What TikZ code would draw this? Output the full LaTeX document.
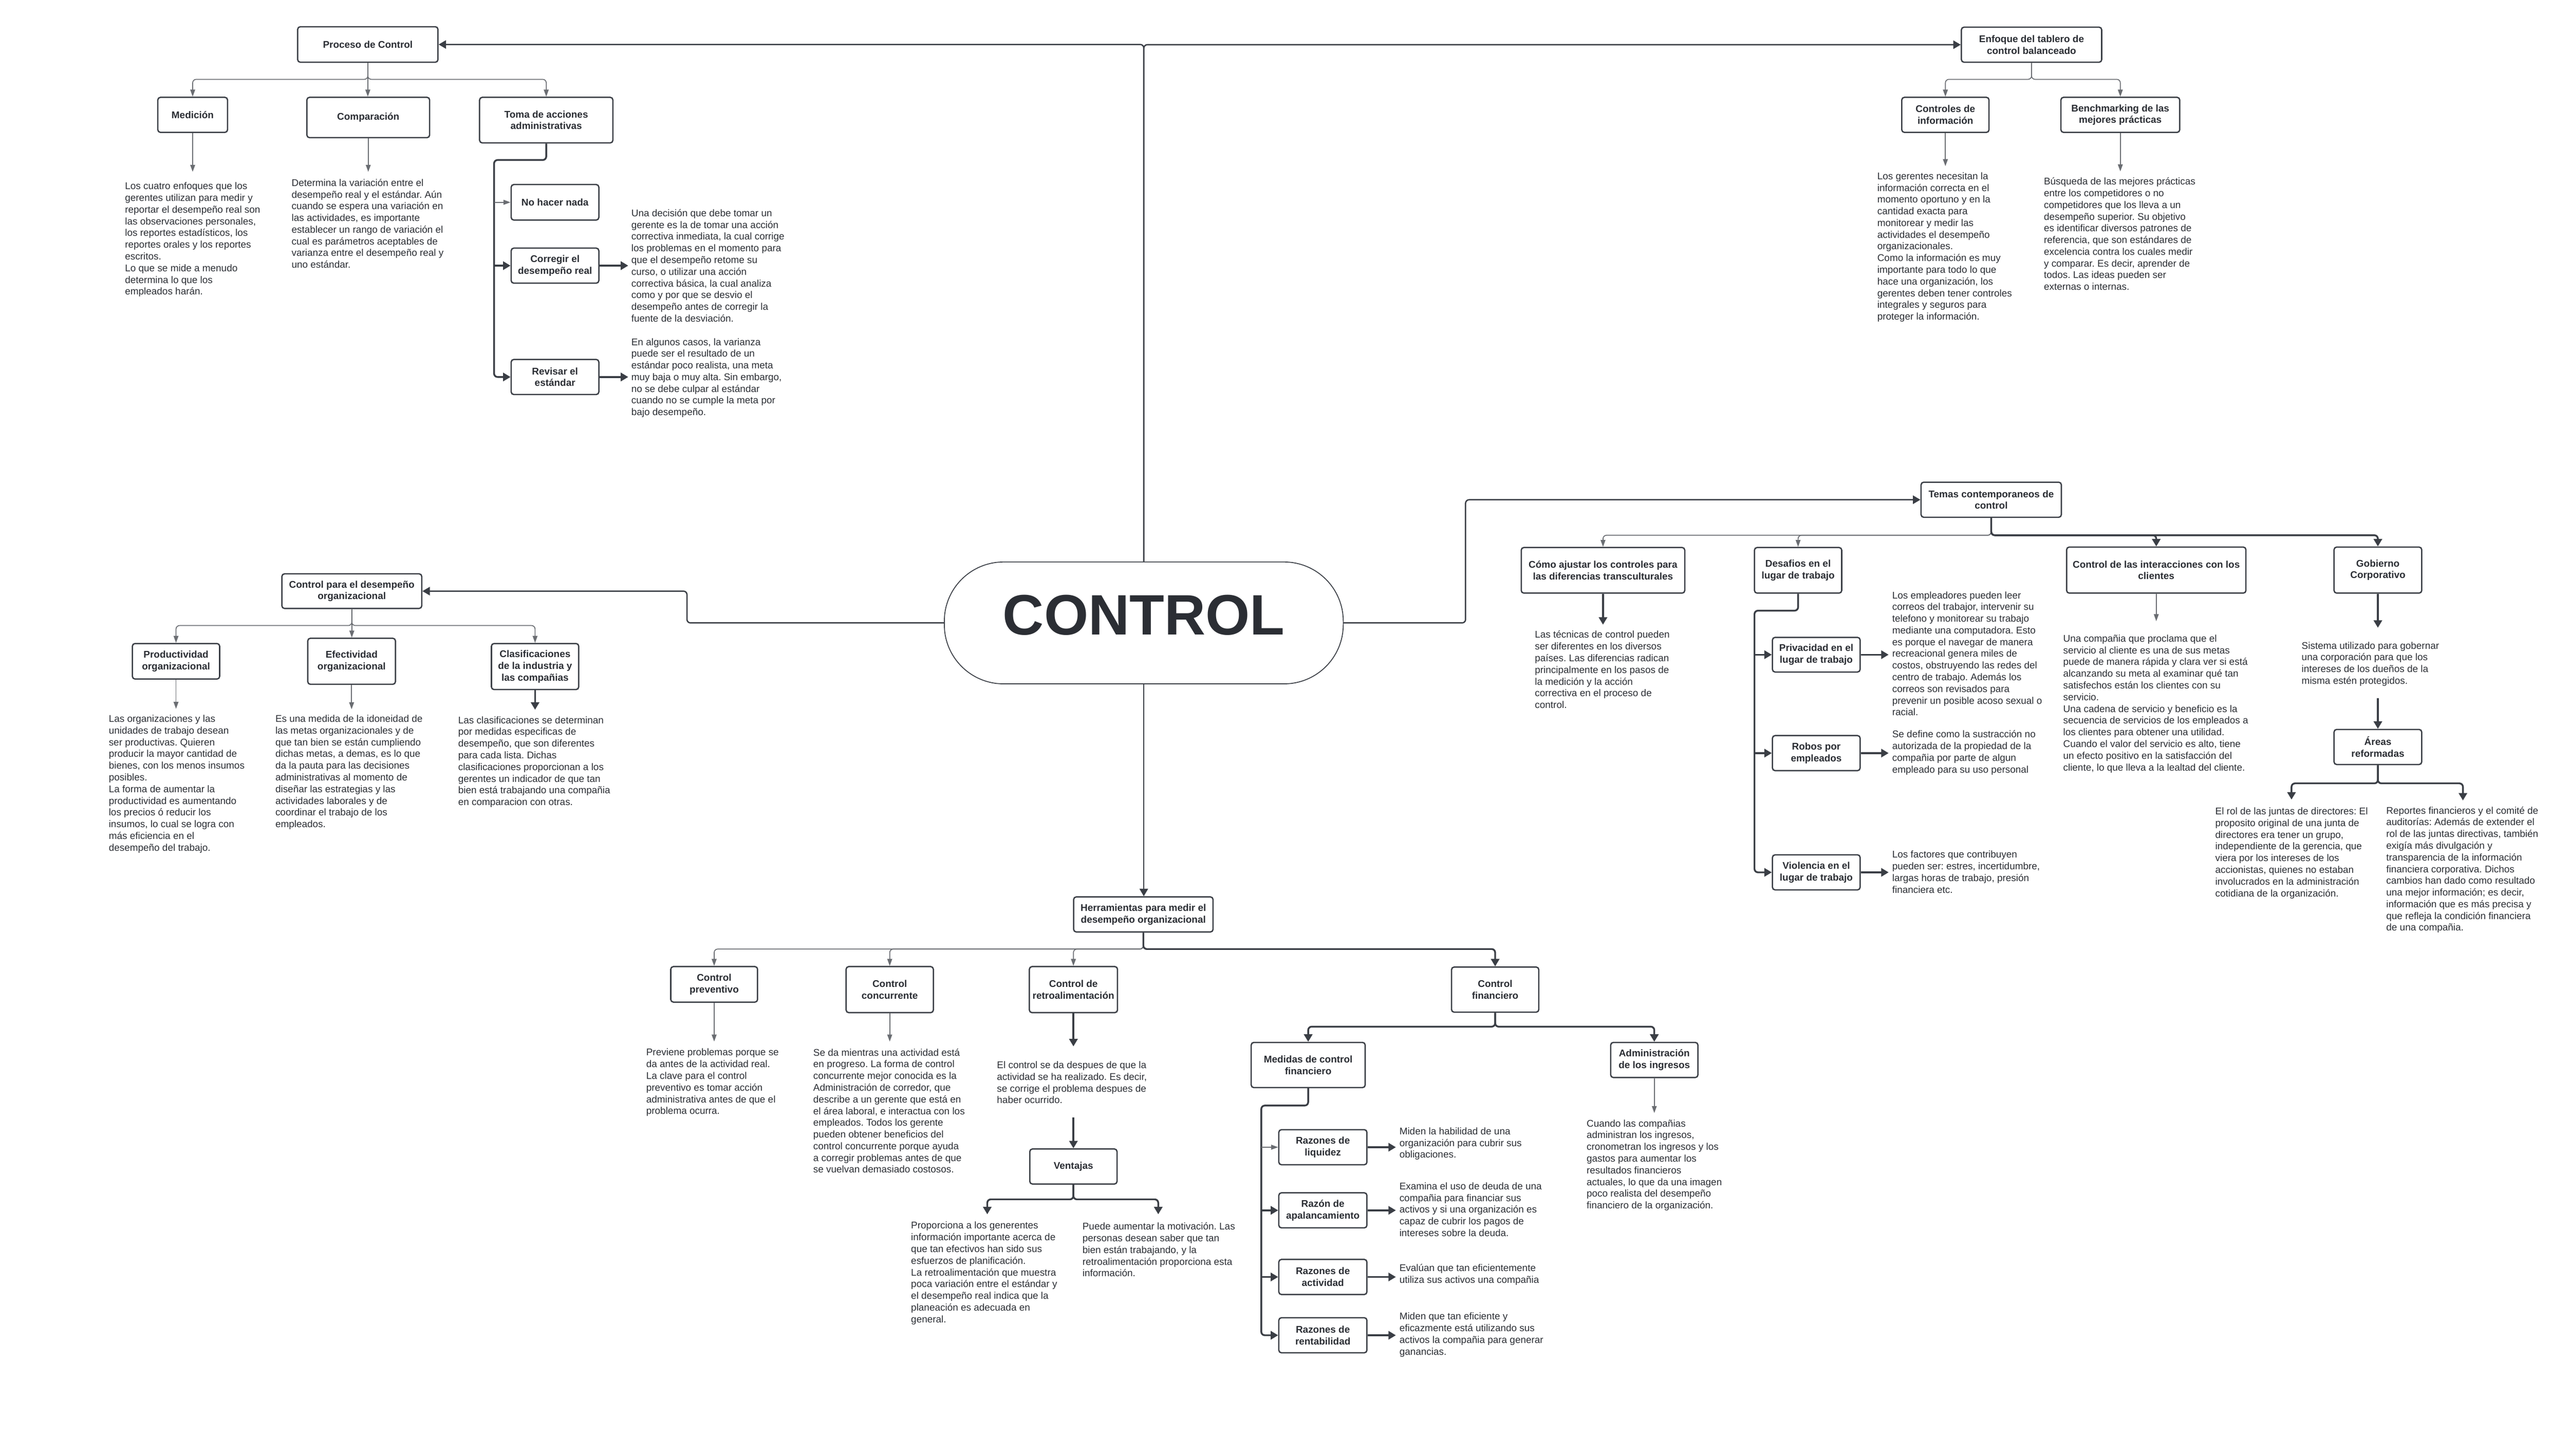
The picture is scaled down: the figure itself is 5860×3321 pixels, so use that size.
\documentclass[tikz,border=0pt]{standalone}
\usepackage{fontspec}
\setmainfont{Liberation Sans}
\usetikzlibrary{arrows.meta}
\definecolor{ink}{HTML}{2B2E34}
\definecolor{edge}{HTML}{3A3E45}
\definecolor{grayline}{HTML}{6A6D72}
\frenchspacing
\begin{document}
\begin{tikzpicture}[x=1pt,y=-1pt,
 every node/.style={font=\fontsize{22.2}{26.7}\selectfont, text=ink},
 box/.style={draw=edge, line width=3pt, rounded corners=6pt, fill=white, font=\fontsize{22.2}{26.7}\selectfont\bfseries, align=center, inner sep=0pt},
 bx/.style 2 args={box, minimum width=#1pt, minimum height=#2pt},
 desc/.style={align=left, inner sep=0pt},
 thinarr/.style={draw=grayline, line width=2pt, rounded corners=8pt, -{Triangle[length=16pt,width=11pt]}},
 boldarr/.style={draw=edge, line width=4pt, rounded corners=8pt, -{Triangle[length=17pt,width=19pt]}},
 trunk/.style={draw=edge, line width=3pt, rounded corners=8pt, -{Triangle[length=17pt,width=19pt]}},
]
\fill[white] (0,0) rectangle (5860,3321);
\useasboundingbox (0,0) rectangle (5860,3321);

% ---------- central node ----------
\node[draw=edge, line width=2pt, rounded corners=135pt, minimum width=910pt, minimum height=278pt, inner sep=0pt, fill=white] (ctrl) at (2609,1421) {};
\node[font=\fontsize{130}{130}\selectfont\bfseries, inner sep=0pt] (ctrltxt) at (2609,1403) {CONTROL};

% ---------- Proceso de Control ----------
\node[bx={320}{81}] (proc) at (839,101.5) {Proceso de Control};
\node[bx={159}{80}] (med) at (439.5,262) {Medición};
\node[bx={280}{92}] (comp) at (840,268) {Comparación};
\node[bx={304}{104}] (toma) at (1246,274) {Toma de acciones\\administrativas};
\node[bx={200}{81}] (nada) at (1266,461.5) {No hacer nada};
\node[bx={200}{80}] (corr) at (1266,606) {Corregir el\\desempeño real};
\node[bx={200}{80}] (rev) at (1266,860) {Revisar el\\estándar};

\node[desc, anchor=north west] (medtxt) at (285,416) {Los cuatro enfoques que los\\gerentes utilizan para medir y\\reportar el desempeño real son\\las observaciones personales,\\los reportes estadísticos, los\\reportes orales y los reportes\\escritos.\\Lo que se mide a menudo\\determina lo que los\\empleados harán.};
\node[desc, anchor=north west] (comptxt) at (665,408) {Determina la variación entre el\\desempeño real y el estándar. Aún\\cuando se espera una variación en\\las actividades, es importante\\establecer un rango de variación el\\cual es parámetros aceptables de\\varianza entre el desempeño real y\\uno estándar.};
\node[desc, anchor=west] (corrtxt) at (1440,606) {Una decisión que debe tomar un\\gerente es la de tomar una acción\\correctiva inmediata, la cual corrige\\los problemas en el momento para\\que el desempeño retome su\\curso, o utilizar una acción\\correctiva básica, la cual analiza\\como y por que se desvio el\\desempeño antes de corregir la\\fuente de la desviación.};
\node[desc, anchor=west] (revtxt) at (1440,862) {En algunos casos, la varianza\\puede ser el resultado de un\\estándar poco realista, una meta\\muy baja o muy alta. Sin embargo,\\no se debe culpar al estándar\\cuando no se cumple la meta por\\bajo desempeño.};

\coordinate (pj) at (839,181);
\draw[thinarr] (proc.south) -- (pj) -| (med.north);
\draw[thinarr] (proc.south) -- (proc.south |- comp.north);
\draw[thinarr] (proc.south) -- (pj) -| (toma.north);
\coordinate (medtip) at (439.5,392);
\coordinate (comptip) at (840,392);
\draw[thinarr] (med.south) -- (medtip);
\draw[thinarr] (comp.south) -- (comptip);
\coordinate (tj) at (1127,365);
\draw[boldarr] (toma.south) |- (tj) |- (rev.west);
\draw[thinarr] (tj |- nada.west) -- (nada.west);
\draw[boldarr] (tj |- corr.west) -- (corr.west);
\draw[boldarr, shorten >=7pt] (corr.east) -- (corr.east -| corrtxt.west);
\draw[boldarr, shorten >=7pt] (rev.east) -- (rev.east -| revtxt.west);

% ---------- Enfoque del tablero ----------
\node[bx={320}{80}] (enf) at (4634,102) {Enfoque del tablero de\\control balanceado};
\node[bx={199}{80}] (cinf) at (4437.5,262) {Controles de\\información};
\node[bx={271}{80}] (bench) at (4836.5,262) {Benchmarking de las\\mejores prácticas};
\node[desc, anchor=north west] (cinftxt) at (4282,393) {Los gerentes necesitan la\\información correcta en el\\momento oportuno y en la\\cantidad exacta para\\monitorear y medir las\\actividades el desempeño\\organizacionales.\\Como la información es muy\\importante para todo lo que\\hace una organización, los\\gerentes deben tener controles\\integrales y seguros para\\proteger la información.};
\node[desc, anchor=north west] (benchtxt) at (4662,405) {Búsqueda de las mejores prácticas\\entre los competidores o no\\competidores que los lleva a un\\desempeño superior. Su objetivo\\es identificar diversos patrones de\\referencia, que son estándares de\\excelencia contra los cuales medir\\y comparar. Es decir, aprender de\\todos. Las ideas pueden ser\\externas o internas.};
\coordinate (ej) at (4634,181);
\draw[thinarr] (enf.south) -- (ej) -| (cinf.north);
\draw[thinarr] (enf.south) -- (ej) -| (bench.north);
\coordinate (cinftip) at (4437.5,379);
\coordinate (benchtip) at (4836.5,391);
\draw[thinarr] (cinf.south) -- (cinftip);
\draw[thinarr] (bench.south) -- (benchtip);

% top trunk
\draw[trunk] (ctrl.north) |- (proc.east);
\draw[trunk] (ctrl.north) |- (enf.west);

% ---------- Control para el desempeño organizacional ----------
\node[bx={319}{79}] (cpd) at (802.5,1348.5) {Control para el desempeño\\organizacional};
\node[bx={199}{81}] (prod) at (401.5,1508.5) {Productividad\\organizacional};
\node[bx={200}{105}] (efec) at (802,1508.5) {Efectividad\\organizacional};
\node[bx={199}{105}] (clas) at (1220.5,1520.5) {Clasificaciones\\de la industria y\\las compañias};
\node[desc, anchor=north west] (prodtxt) at (248,1631) {Las organizaciones y las\\unidades de trabajo desean\\ser productivas. Quieren\\producir la mayor cantidad de\\bienes, con los menos insumos\\posibles.\\La forma de aumentar la\\productividad es aumentando\\los precios ó reducir los\\insumos, lo cual se logra con\\más eficiencia en el\\desempeño del trabajo.};
\node[desc, anchor=north west] (efectxt) at (628,1631) {Es una medida de la idoneidad de\\las metas organizacionales y de\\que tan bien se están cumpliendo\\dichas metas, a demas, es lo que\\da la pauta para las decisiones\\administrativas al momento de\\diseñar las estrategias y las\\actividades laborales y de\\coordinar el trabajo de los\\empleados.};
\node[desc, anchor=north west] (clastxt) at (1045,1634) {Las clasificaciones se determinan\\por medidas especificas de\\desempeño, que son diferentes\\para cada lista. Dichas\\clasificaciones proporcionan a los\\gerentes un indicador de que tan\\bien está trabajando una compañia\\en comparacion con otras.};
\coordinate (lj) at (1567,1421);
\draw[trunk] (ctrl.west) -- (lj) |- (cpd.east);
\coordinate (cj) at (802.5,1427);
\draw[thinarr] (cpd.south) -- (cj) -| (prod.north);
\draw[thinarr] (cpd.south) -- (cpd.south |- efec.north);
\draw[thinarr] (cpd.south) -- (cj) -| (clas.north);
\coordinate (prodtip) at (401.5,1617);
\coordinate (efectip) at (802,1618);
\coordinate (clastip) at (1220.5,1619);
\draw[thinarr] (prod.south) -- (prodtip);
\draw[thinarr] (efec.south) -- (efectip);
\draw[boldarr] (clas.south) -- (clastip);

% ---------- Temas contemporaneos ----------
\node[bx={320}{80}] (temas) at (4542,1140) {Temas contemporaneos de\\control};
\node[bx={373}{104}] (como) at (3656.5,1301) {Cómo ajustar los controles para\\las diferencias transculturales};
\node[bx={199}{104}] (desaf) at (4101.5,1301) {Desafios en el\\lugar de trabajo};
\node[bx={200}{79}] (priv) at (4143,1493.5) {Privacidad en el\\lugar de trabajo};
\node[bx={200}{80}] (robos) at (4143,1718) {Robos por\\empleados};
\node[bx={200}{80}] (viol) at (4143,1990) {Violencia en el\\lugar de trabajo};
\node[bx={409}{105}] (inter) at (4918.5,1300.5) {Control de las interacciones con los\\clientes};
\node[bx={200}{105}] (gob) at (5424,1300.5) {Gobierno\\Corporativo};
\node[bx={200}{80}] (areas) at (5424,1704) {Áreas\\reformadas};

\node[desc, anchor=north west] (comotxt) at (3501,1439) {Las técnicas de control pueden\\ser diferentes en los diversos\\países. Las diferencias radican\\principalmente en los pasos de\\la medición y la acción\\correctiva en el proceso de\\control.};
\node[desc, anchor=west] (privtxt) at (4316,1491) {Los empleadores pueden leer\\correos del trabajor, intervenir su\\telefono y monitorear su trabajo\\mediante una computadora. Esto\\es porque el navegar de manera\\recreacional genera miles de\\costos, obstruyendo las redes del\\centro de trabajo. Además los\\correos son revisados para\\prevenir un posible acoso sexual o\\racial.};
\node[desc, anchor=west] (robostxt) at (4316,1717) {Se define como la sustracción no\\autorizada de la propiedad de la\\compañia por parte de algun\\empleado para su uso personal};
\node[desc, anchor=west] (violtxt) at (4316,1989) {Los factores que contribuyen\\pueden ser: estres, incertidumbre,\\largas horas de trabajo, presión\\financiera etc.};
\node[desc, anchor=north west] (intertxt) at (4706,1448) {Una compañia que proclama que el\\servicio al cliente es una de sus metas\\puede de manera rápida y clara ver si está\\alcanzando su meta al examinar qué tan\\satisfechos están los clientes con su\\servicio.\\Una cadena de servicio y beneficio es la\\secuencia de servicios de los empleados a\\los clientes para obtener una utilidad.\\Cuando el valor del servicio es alto, tiene\\un efecto positivo en la satisfacción del\\cliente, lo que lleva a la lealtad del cliente.};
\node[desc, anchor=north west] (gobtxt) at (5250,1464) {Sistema utilizado para gobernar\\una corporación para que los\\intereses de los dueños de la\\misma estén protegidos.};
\node[desc, anchor=north west] (roltxt) at (5053,1842) {El rol de las juntas de directores: El\\proposito original de una junta de\\directores era tener un grupo,\\independiente de la gerencia, que\\viera por los intereses de los\\accionistas, quienes no estaban\\involucrados en la administración\\cotidiana de la organización.};
\node[desc, anchor=north west] (reptxt) at (5443,1840) {Reportes financieros y el comité de\\auditorías: Además de extender el\\rol de las juntas directivas, también\\exigía más divulgación y\\transparencia de la información\\financiera corporativa. Dichos\\cambios han dado como resultado\\una mejor información; es decir,\\información que es más precisa y\\que refleja la condición financiera\\de una compañia.};

\coordinate (rj) at (3343,1421);
\draw[trunk] (ctrl.east) -- (rj) |- (temas.west);
\coordinate (tmj) at (4542,1221);
\draw[thinarr] (temas.south) -- (tmj) -| (como.north);
\draw[thinarr] (temas.south) -- (tmj) -| (desaf.north);
\draw[boldarr] (temas.south) -- (tmj) -| (inter.north);
\draw[boldarr] (temas.south) -- (tmj) -| (gob.north);
\coordinate (comotip) at (3656.5,1425);
\draw[boldarr] (como.south) -- (comotip);
\coordinate (dj) at (4002,1393);
\draw[boldarr] (desaf.south) |- (dj) |- (viol.west);
\draw[boldarr] (dj |- priv.west) -- (priv.west);
\draw[boldarr] (dj |- robos.west) -- (robos.west);
\draw[boldarr, shorten >=8pt] (priv.east) -- (priv.east -| privtxt.west);
\draw[boldarr, shorten >=8pt] (robos.east) -- (robos.east -| robostxt.west);
\draw[boldarr, shorten >=8pt] (viol.east) -- (viol.east -| violtxt.west);
\coordinate (intertip) at (4918.5,1417);
\draw[thinarr] (inter.south) -- (intertip);
\coordinate (gobtip) at (5424,1432);
\draw[boldarr] (gob.south) -- (gobtip);
\coordinate (gobfrom) at (5424,1593);
\draw[boldarr] (gobfrom) -- (areas.north);
\coordinate (aj) at (5424,1787);
\coordinate (roltip) at (5227,1824);
\coordinate (reptip) at (5618,1826);
\draw[boldarr] (areas.south) -- (aj) -| (roltip);
\draw[boldarr] (areas.south) -- (aj) -| (reptip);

% ---------- Herramientas ----------
\node[bx={318}{80}] (herr) at (2608,2086) {Herramientas para medir el\\desempeño organizacional};
\node[bx={198}{81}] (prev) at (1629,2245.5) {Control\\preventivo};
\node[bx={199}{105}] (conc) at (2029.5,2257.5) {Control\\concurrente};
\node[bx={201}{105}] (retro) at (2448.5,2257.5) {Control de\\retroalimentación};
\node[bx={199}{80}] (vent) at (2448.5,2661) {Ventajas};
\node[bx={199}{103}] (cfin) at (3410.5,2257.5) {Control\\financiero};
\node[bx={260}{103}] (medidas) at (2984,2429.5) {Medidas de control\\financiero};
\node[bx={199}{80}] (admin) at (3773.5,2418) {Administración\\de los ingresos};
\node[bx={201}{80}] (liq) at (3017.5,2617) {Razones de\\liquidez};
\node[bx={201}{80}] (apal) at (3017.5,2761) {Razón de\\apalancamiento};
\node[bx={201}{80}] (act) at (3017.5,2913) {Razones de\\actividad};
\node[bx={201}{80}] (rent) at (3017.5,3046) {Razones de\\rentabilidad};

\node[desc, anchor=north west] (prevtxt) at (1474,2392) {Previene problemas porque se\\da antes de la actividad real.\\La clave para el control\\preventivo es tomar acción\\administrativa antes de que el\\problema ocurra.};
\node[desc, anchor=north west] (conctxt) at (1855,2392) {Se da mientras una actividad está\\en progreso. La forma de control\\concurrente mejor conocida es la\\Administración de corredor, que\\describe a un gerente que está en\\el área laboral, e interactua con los\\empleados. Todos los gerente\\pueden obtener beneficios del\\control concurrente porque ayuda\\a corregir problemas antes de que\\se vuelvan demasiado costosos.};
\node[desc, anchor=north west] (retrotxt) at (2274,2421) {El control se da despues de que la\\actividad se ha realizado. Es decir,\\se corrige el problema despues de\\haber ocurrido.};
\node[desc, anchor=north west] (ventltxt) at (2078,2787) {Proporciona a los generentes\\información importante acerca de\\que tan efectivos han sido sus\\esfuerzos de planificación.\\La retroalimentación que muestra\\poca variación entre el estándar y\\el desempeño real indica que la\\planeación es adecuada en\\general.};
\node[desc, anchor=north west] (ventrtxt) at (2469,2789) {Puede aumentar la motivación. Las\\personas desean saber que tan\\bien están trabajando, y la\\retroalimentación proporciona esta\\información.};
\node[desc, anchor=north west] (admintxt) at (3619,2554) {Cuando las compañias\\administran los ingresos,\\cronometran los ingresos y los\\gastos para aumentar los\\resultados financieros\\actuales, lo que da una imagen\\poco realista del desempeño\\financiero de la organización.};
\node[desc, anchor=west] (liqtxt) at (3192,2609) {Miden la habilidad de una\\organización para cubrir sus\\obligaciones.};
\node[desc, anchor=west] (apaltxt) at (3192,2759) {Examina el uso de deuda de una\\compañia para financiar sus\\activos y si una organización es\\capaz de cubrir los pagos de\\intereses sobre la deuda.};
\node[desc, anchor=west] (acttxt) at (3192,2908) {Evalúan que tan eficientemente\\utiliza sus activos una compañia};
\node[desc, anchor=west] (renttxt) at (3192,3045) {Miden que tan eficiente y\\eficazmente está utilizando sus\\activos la compañia para generar\\ganancias.};

\draw[trunk] (ctrl.south) -- (ctrl.south |- herr.north);
\coordinate (hj) at (2608,2165);
\draw[thinarr] (herr.south) -- (hj) -| (prev.north);
\draw[thinarr] (herr.south) -- (hj) -| (conc.north);
\draw[thinarr] (herr.south) -- (hj) -| (retro.north);
\draw[boldarr] (herr.south) -- (hj) -| (cfin.north);
\coordinate (prevtip) at (1629,2376);
\coordinate (conctip) at (2029.5,2376);
\coordinate (retrotip) at (2448.5,2387);
\draw[thinarr] (prev.south) -- (prevtip);
\draw[thinarr] (conc.south) -- (conctip);
\draw[boldarr] (retro.south) -- (retrotip);
\coordinate (retrofrom) at (2448.5,2549);
\draw[boldarr] (retrofrom) -- (vent.north);
\coordinate (vj) at (2448.5,2736);
\coordinate (ventltip) at (2252,2770);
\coordinate (ventrtip) at (2642,2770);
\draw[boldarr] (vent.south) -- (vj) -| (ventltip);
\draw[boldarr] (vent.south) -- (vj) -| (ventrtip);
\coordinate (fj) at (3410.5,2342);
\draw[boldarr] (cfin.south) -- (fj) -| (medidas.north);
\draw[boldarr] (cfin.south) -- (fj) -| (admin.north);
\coordinate (admintip) at (3773.5,2539);
\draw[thinarr] (admin.south) -- (admintip);
\coordinate (mj) at (2877,2522);
\draw[boldarr] (medidas.south) |- (mj) |- (rent.west);
\draw[thinarr] (mj |- liq.west) -- (liq.west);
\draw[boldarr] (mj |- apal.west) -- (apal.west);
\draw[boldarr] (mj |- act.west) -- (act.west);
\draw[boldarr, shorten >=8pt] (liq.east) -- (liq.east -| liqtxt.west);
\draw[boldarr, shorten >=8pt] (apal.east) -- (apal.east -| apaltxt.west);
\draw[boldarr, shorten >=8pt] (act.east) -- (act.east -| acttxt.west);
\draw[boldarr, shorten >=8pt] (rent.east) -- (rent.east -| renttxt.west);
\end{tikzpicture}
\end{document}
